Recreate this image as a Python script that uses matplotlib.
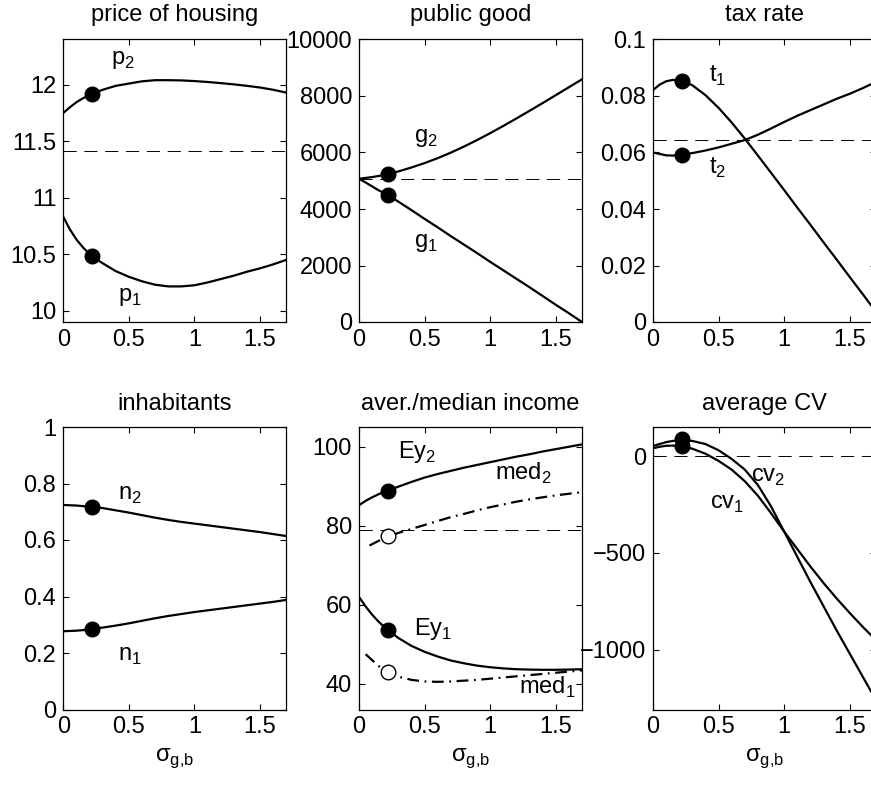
import matplotlib
matplotlib.use("Agg")
import matplotlib.pyplot as plt

plt.rcParams["font.family"] = ["Liberation Sans", "DejaVu Sans"]
plt.rcParams["mathtext.fontset"] = "custom"
plt.rcParams["mathtext.rm"] = "Liberation Sans"
plt.rcParams["lines.scale_dashes"] = False


# ============================================
# Data
# ============================================

SIGMA = [0, 0.05, 0.1, 0.15, 0.22, 0.3, 0.4, 0.5, 0.6, 0.7,
         0.8, 0.9, 1.0, 1.1, 1.2, 1.3, 1.4, 1.5, 1.6, 1.7]

p1 = [10.83, 10.72, 10.63, 10.56, 10.48, 10.42, 10.35, 10.30, 10.26, 10.23,
      10.215, 10.215, 10.225, 10.25, 10.28, 10.31, 10.345, 10.375, 10.41, 10.45]
p2 = [11.75, 11.80, 11.845, 11.88, 11.92, 11.955, 11.99, 12.01, 12.03, 12.04,
      12.04, 12.038, 12.032, 12.024, 12.014, 12.003, 11.99, 11.975, 11.955, 11.93]
p_bar = 11.41

g1 = [5070, 4940, 4800, 4660, 4500, 4260, 3960, 3650, 3350, 3040,
      2740, 2440, 2130, 1830, 1530, 1230, 920, 610, 310, 0]
g2 = [5070, 5100, 5130, 5170, 5230, 5330, 5470, 5625, 5800, 5995,
      6210, 6440, 6685, 6940, 7205, 7475, 7750, 8030, 8310, 8590]
g_bar = 5070

t1 = [0.0821, 0.0840, 0.0852, 0.0857, 0.0854, 0.0838, 0.0803, 0.0758, 0.0706, 0.0649,
      0.0589, 0.0528, 0.0467, 0.0405, 0.0344, 0.0282, 0.0221, 0.0159, 0.0098, 0.0036]
t2 = [0.0600, 0.0595, 0.0590, 0.0589, 0.0592, 0.0598, 0.0607, 0.0618, 0.0631, 0.0644,
      0.0663, 0.0685, 0.0708, 0.0730, 0.0750, 0.0770, 0.0790, 0.0808, 0.0828, 0.0850]
t_bar = 0.0646

n1 = [0.277, 0.278, 0.279, 0.281, 0.285, 0.290, 0.297, 0.305, 0.314, 0.323,
      0.331, 0.338, 0.345, 0.351, 0.357, 0.363, 0.369, 0.375, 0.381, 0.388]
n2 = [0.724, 0.723, 0.722, 0.720, 0.717, 0.713, 0.705, 0.697, 0.688, 0.679,
      0.671, 0.664, 0.658, 0.652, 0.646, 0.640, 0.634, 0.628, 0.621, 0.614]

ey1 = [62.0, 59.6, 57.5, 55.7, 53.6, 51.6, 49.6, 48.1, 46.9, 45.9,
       45.2, 44.6, 44.2, 43.9, 43.7, 43.6, 43.55, 43.55, 43.6, 43.7]
ey2 = [85.2, 86.3, 87.2, 88.0, 88.9, 89.9, 91.1, 92.2, 93.1, 93.9,
       94.7, 95.4, 96.1, 96.8, 97.5, 98.1, 98.8, 99.4, 100.0, 100.6]
ey_bar = 79.0

SIGMA_MED1 = [0.05, 0.1, 0.15, 0.22, 0.3, 0.4, 0.5, 0.6, 0.7,
              0.8, 0.9, 1.0, 1.1, 1.2, 1.3, 1.4, 1.5, 1.6, 1.7]
med1 = [47.5, 46.0, 44.5, 43.0, 41.8, 41.0, 40.6, 40.5, 40.6,
        40.8, 41.0, 41.3, 41.6, 41.9, 42.2, 42.5, 42.8, 43.1, 43.4]
SIGMA_MED2 = [0.08, 0.15, 0.22, 0.3, 0.4, 0.5, 0.6, 0.7,
              0.8, 0.9, 1.0, 1.1, 1.2, 1.3, 1.4, 1.5, 1.6, 1.7]
med2 = [75.0, 76.2, 77.2, 78.2, 79.2, 80.2, 81.2, 82.2,
        83.0, 83.9, 84.7, 85.4, 86.1, 86.7, 87.2, 87.7, 88.1, 88.5]

cv1 = [40, 48, 53, 54, 50, 38, 12, -25, -70, -130,
       -205, -295, -390, -480, -570, -655, -735, -810, -882, -950]
cv2 = [52, 62, 72, 78, 82, 78, 62, 30, -15, -70,
       -150, -260, -390, -520, -650, -775, -900, -1020, -1140, -1260]
cv_bar = 0

# status quo point
SIGMA_STAR = 0.22
p_star = [10.48, 11.92]
g_star = [4500, 5230]
t_star = [0.0854, 0.0592]
n_star = [0.285, 0.717]
ey_star = [53.5, 88.9]
med_star = [43.0, 77.4]
cv_star = [50, 86]

XTICKS = [0, 0.5, 1, 1.5]
XTICK_LABELS = ["0", "0.5", "1", "1.5"]


# ============================================
# Layout helpers
# ============================================

W, H = 871, 789
FS = 17

fig = plt.figure(figsize=(W / 100, H / 100), dpi=100)


def make_axes(left_px, top_px):
    ax = fig.add_axes([left_px / W, 1 - (top_px + 282.5) / H, 223 / W, 282.5 / H])
    ax.set_xlim(0, 1.7)
    ax.set_xticks(XTICKS)
    ax.set_xticklabels(XTICK_LABELS)
    ax.tick_params(direction="in", top=True, right=True, length=4,
                   width=0.8, labelsize=FS, pad=5)
    for s in ax.spines.values():
        s.set_linewidth(0.9)
    return ax


def curve(ax, x, y, style="-"):
    if style == "-.":
        ax.plot(x, y, color="black", lw=1.6, dashes=(8.5, 4, 1.3, 4))
    else:
        ax.plot(x, y, color="black", lw=1.6)


def hline(ax, y):
    ax.axhline(y, color="black", lw=0.7, dashes=(9.5, 5.5))


def dots(ax, ys, filled=True):
    face = "black" if filled else "white"
    ax.plot([SIGMA_STAR] * len(ys), ys, "o", ms=10.5, mfc=face,
            mec="black", mew=1.0, zorder=5)


def label(ax, x, y, base, sub):
    ax.text(x, y, base + r"$_\mathregular{" + sub + "}$", fontsize=FS,
            ha="left", va="baseline")


def xlabel(ax):
    ax.set_xlabel(r"σ$_\mathregular{g{,}b}$", fontsize=FS, labelpad=6)


# ============================================
# Price of housing
# ============================================

ax = make_axes(63.3, 39.5)
hline(ax, p_bar)
curve(ax, SIGMA, p1)
curve(ax, SIGMA, p2)
dots(ax, p_star)
ax.set_ylim(9.9, 12.4)
ax.set_yticks([10, 10.5, 11, 11.5, 12])
ax.set_yticklabels(["10", "10.5", "11", "11.5", "12"])
ax.set_title("price of housing", fontsize=FS, pad=13.5)
label(ax, 0.36, 12.18, "p", "2")
label(ax, 0.42, 10.09, "p", "1")

# ============================================
# Public good
# ============================================

ax = make_axes(359, 39.5)
hline(ax, g_bar)
curve(ax, SIGMA, g1)
curve(ax, SIGMA, g2)
dots(ax, g_star)
ax.set_ylim(0, 10000)
ax.set_yticks([0, 2000, 4000, 6000, 8000, 10000])
ax.set_yticklabels(["0", "2000", "4000", "6000", "8000", "10000"])
ax.set_title("public good", fontsize=FS, pad=13.5)
label(ax, 0.42, 6357, "g", "2")
label(ax, 0.42, 2667, "g", "1")

# ============================================
# Tax rate
# ============================================

ax = make_axes(653, 39.5)
hline(ax, t_bar)
curve(ax, SIGMA, t1)
curve(ax, SIGMA, t2)
dots(ax, t_star)
ax.set_ylim(0, 0.1)
ax.set_yticks([0, 0.02, 0.04, 0.06, 0.08, 0.1])
ax.set_yticklabels(["0", "0.02", "0.04", "0.06", "0.08", "0.1"])
ax.set_title("tax rate", fontsize=FS, pad=13.5)
label(ax, 0.425, 0.0851, "t", "1")
label(ax, 0.425, 0.0524, "t", "2")

# ============================================
# Inhabitants
# ============================================

ax = make_axes(63.3, 427)
curve(ax, SIGMA, n1)
curve(ax, SIGMA, n2)
dots(ax, n_star)
ax.set_ylim(0, 1)
ax.set_yticks([0, 0.2, 0.4, 0.6, 0.8, 1])
ax.set_yticklabels(["0", "0.2", "0.4", "0.6", "0.8", "1"])
ax.set_title("inhabitants", fontsize=FS, pad=12.3)
label(ax, 0.42, 0.742, "n", "2")
label(ax, 0.42, 0.174, "n", "1")
xlabel(ax)

# ============================================
# Average / median income
# ============================================

ax = make_axes(359, 427)
hline(ax, ey_bar)
curve(ax, SIGMA, ey1)
curve(ax, SIGMA, ey2)
curve(ax, SIGMA_MED1, med1, "-.")
curve(ax, SIGMA_MED2, med2, "-.")
dots(ax, ey_star)
dots(ax, med_star, filled=False)
ax.set_ylim(33.5, 105)
ax.set_yticks([40, 60, 80, 100])
ax.set_yticklabels(["40", "60", "80", "100"])
ax.set_title("aver./median income", fontsize=FS, pad=12.3)
label(ax, 0.295, 97.1, "Ey", "2")
label(ax, 1.034, 91.6, "med", "2")
label(ax, 0.418, 52.3, "Ey", "1")
label(ax, 1.218, 37.5, "med", "1")
xlabel(ax)

# ============================================
# Average CV
# ============================================

ax = make_axes(653, 427)
hline(ax, cv_bar)
curve(ax, SIGMA, cv1)
curve(ax, SIGMA, cv2)
dots(ax, cv_star)
ax.set_ylim(-1308, 150)
ax.set_yticks([-1000, -500, 0])
ax.set_yticklabels(["\u22121000", "\u2212500", "0"])
ax.set_title("average CV", fontsize=FS, pad=12.3)
label(ax, 0.746, -134, "cv", "2")
label(ax, 0.438, -271, "cv", "1")
xlabel(ax)

fig.savefig("out.png", dpi=100)
plt.close(fig)
